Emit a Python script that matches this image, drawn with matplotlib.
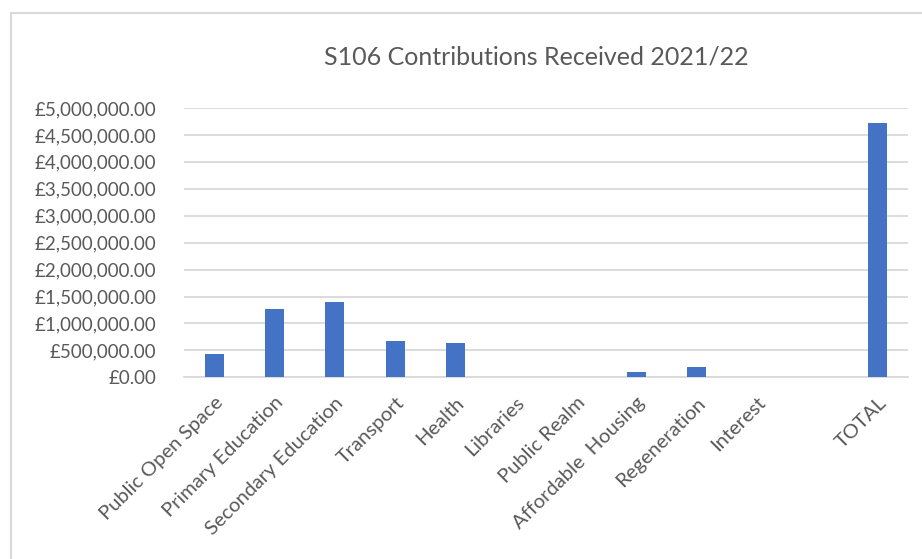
import numpy as np
import matplotlib
matplotlib.use('Agg')
import matplotlib.pyplot as plt
from matplotlib.patches import Rectangle
from matplotlib.ticker import FuncFormatter

# Categories and amounts received (GBP)
categories = ['Public Open Space', 'Primary Education', 'Secondary Education', 'Transport',
              'Health', 'Libraries', 'Public Realm', 'Affordable  Housing', 'Regeneration',
              'Interest', '', 'TOTAL']
amounts = [425000, 1270000, 1405000, 675000, 632000, 0, 0, 93000, 186000, 5000, 0, 4730000]
y_ticks = [0, 500000, 1000000, 1500000, 2000000, 2500000, 3000000, 3500000, 4000000, 4500000, 5000000]

plt.rcParams['font.family'] = ['Lato', 'DejaVu Sans']
text_col = '#595959'
grid_col = '#d9d9d9'

fig = plt.figure(figsize=(9.22, 5.59), dpi=100)
# chart area border (Excel-style)
fig.patches.append(Rectangle((11 / 922, -0.1), 1.2, (559 - 13) / 559 + 0.1, transform=fig.transFigure,
                             fill=False, edgecolor=grid_col, linewidth=1.5))

ax = fig.add_axes([184 / 922, 1 - 377.3 / 559, (908 - 184) / 922, (377.3 - 108) / 559])
x = np.arange(len(categories))
ax.bar(x, amounts, width=0.315, color='#4472C4', zorder=3)

ax.set_xlim(-0.5, len(categories) - 0.5)
ax.set_ylim(0, 5000000)
ax.set_yticks(y_ticks)
ax.yaxis.set_major_formatter(FuncFormatter(lambda v, p: '£{:,.2f}'.format(v)))
ax.grid(axis='y', color=grid_col, linewidth=1.3, zorder=0)
for s in ['top', 'right', 'left']:
    ax.spines[s].set_visible(False)
ax.spines['bottom'].set_color(grid_col)
ax.spines['bottom'].set_linewidth(1.3)
ax.tick_params(axis='both', length=0, colors=text_col)
ax.tick_params(axis='y', pad=20, labelsize=13.5)
ax.set_xticks(x)
ax.set_xticklabels(categories, rotation=45, ha='right', rotation_mode='anchor')
ax.tick_params(axis='x', pad=12, labelsize=14.5)

fig.text(536 / 922, 1 - 57 / 559, 'S106 Contributions Received 2021/22', ha='center', va='center',
         fontsize=18, color=text_col)

fig.savefig('out.png', dpi=100)
